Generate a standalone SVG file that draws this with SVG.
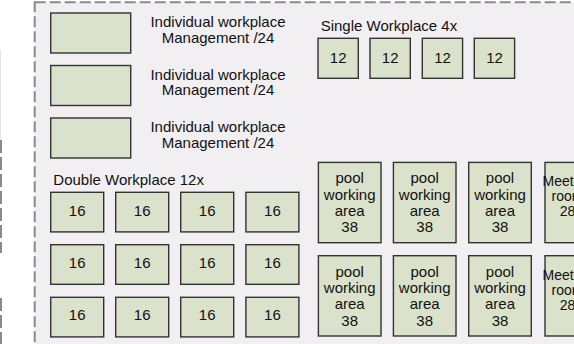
<svg xmlns="http://www.w3.org/2000/svg" width="574" height="344" viewBox="0 0 574 344">
<style>
.frame{fill:#f1eff2;stroke:#8a8a8a;stroke-width:2;stroke-dasharray:11 4}
.edge{fill:none;stroke:#8a8a8a;stroke-width:2;stroke-dasharray:13 4}
.box{fill:#dbe2cb;stroke:#333333;stroke-width:1.4}
.t{font-family:"Liberation Sans",Arial,sans-serif;font-size:15px;fill:#111111}
.c{text-anchor:middle}
.m{font-size:14px}
</style>
<rect x="0" y="0" width="574" height="344" fill="#ffffff"/>
<line x1="0.5" y1="50" x2="0.5" y2="140" stroke="#e4e4e4" stroke-width="1"/>
<line class="edge" x1="1" y1="140" x2="1" y2="253"/>
<line class="edge" x1="1" y1="298" x2="1" y2="344"/>
<rect class="frame" x="34.7" y="2.3" width="560" height="360"/>

<g id="mgmt1"><rect class="box" x="50.7" y="13" width="80" height="40"/><text class="t c" x="218" y="27.3">Individual workplace</text><text class="t c" x="218" y="42.7">Management /24</text></g>
<g id="mgmt2"><rect class="box" x="50.7" y="65.5" width="80" height="40"/><text class="t c" x="218" y="79.5">Individual workplace</text><text class="t c" x="218" y="95">Management /24</text></g>
<g id="mgmt3"><rect class="box" x="50.7" y="118" width="80" height="40"/><text class="t c" x="218" y="131.7">Individual workplace</text><text class="t c" x="218" y="147.7">Management /24</text></g>

<g id="single-label"><text class="t" x="320.7" y="31">Single Workplace 4x</text></g>
<g id="s1"><rect class="box" x="318" y="38.3" width="40.3" height="40"/><text class="t c" x="338.2" y="63.3">12</text></g>
<g id="s2"><rect class="box" x="370" y="38.3" width="40.3" height="40"/><text class="t c" x="390.2" y="63.3">12</text></g>
<g id="s3"><rect class="box" x="422.3" y="38.3" width="40.3" height="40"/><text class="t c" x="442.5" y="63.3">12</text></g>
<g id="s4"><rect class="box" x="474.3" y="38.3" width="40.3" height="40"/><text class="t c" x="494.5" y="63.3">12</text></g>

<g id="double-label"><text class="t" x="53.3" y="185">Double Workplace 12x</text></g>
<g id="d11"><rect class="box" x="50.7" y="192.3" width="53" height="39.6"/><text class="t c" x="77.2" y="216">16</text></g>
<g id="d12"><rect class="box" x="115.7" y="192.3" width="53" height="39.6"/><text class="t c" x="142.2" y="216">16</text></g>
<g id="d13"><rect class="box" x="180.7" y="192.3" width="53" height="39.6"/><text class="t c" x="207.2" y="216">16</text></g>
<g id="d14"><rect class="box" x="245.9" y="192.3" width="53" height="39.6"/><text class="t c" x="272.4" y="216">16</text></g>
<g id="d21"><rect class="box" x="50.7" y="244.7" width="53" height="39.6"/><text class="t c" x="77.2" y="268">16</text></g>
<g id="d22"><rect class="box" x="115.7" y="244.7" width="53" height="39.6"/><text class="t c" x="142.2" y="268">16</text></g>
<g id="d23"><rect class="box" x="180.7" y="244.7" width="53" height="39.6"/><text class="t c" x="207.2" y="268">16</text></g>
<g id="d24"><rect class="box" x="245.9" y="244.7" width="53" height="39.6"/><text class="t c" x="272.4" y="268">16</text></g>
<g id="d31"><rect class="box" x="50.7" y="297.3" width="53" height="39.6"/><text class="t c" x="77.2" y="320">16</text></g>
<g id="d32"><rect class="box" x="115.7" y="297.3" width="53" height="39.6"/><text class="t c" x="142.2" y="320">16</text></g>
<g id="d33"><rect class="box" x="180.7" y="297.3" width="53" height="39.6"/><text class="t c" x="207.2" y="320">16</text></g>
<g id="d34"><rect class="box" x="245.9" y="297.3" width="53" height="39.6"/><text class="t c" x="272.4" y="320">16</text></g>

<g id="p11"><rect class="box" x="318.4" y="162.4" width="62.6" height="80.3"/><text class="t c" x="349.7" y="183.3">pool</text><text class="t c" x="349.7" y="199.5">working</text><text class="t c" x="349.7" y="215.7">area</text><text class="t c" x="349.7" y="232">38</text></g>
<g id="p12"><rect class="box" x="393.4" y="162.4" width="62.6" height="80.3"/><text class="t c" x="424.7" y="183.3">pool</text><text class="t c" x="424.7" y="199.5">working</text><text class="t c" x="424.7" y="215.7">area</text><text class="t c" x="424.7" y="232">38</text></g>
<g id="p13"><rect class="box" x="468.7" y="162.4" width="62.6" height="80.3"/><text class="t c" x="500" y="183.3">pool</text><text class="t c" x="500" y="199.5">working</text><text class="t c" x="500" y="215.7">area</text><text class="t c" x="500" y="232">38</text></g>
<g id="m1"><rect class="box" x="545" y="162.4" width="62.6" height="80.3"/><text class="t m c" x="567.5" y="186">Meeting</text><text class="t m c" x="567.5" y="201">room</text><text class="t m c" x="567.5" y="216">28</text></g>
<g id="p21"><rect class="box" x="318.4" y="255.7" width="62.6" height="80.3"/><text class="t c" x="349.7" y="276.8">pool</text><text class="t c" x="349.7" y="293">working</text><text class="t c" x="349.7" y="309.2">area</text><text class="t c" x="349.7" y="325.5">38</text></g>
<g id="p22"><rect class="box" x="393.4" y="255.7" width="62.6" height="80.3"/><text class="t c" x="424.7" y="276.8">pool</text><text class="t c" x="424.7" y="293">working</text><text class="t c" x="424.7" y="309.2">area</text><text class="t c" x="424.7" y="325.5">38</text></g>
<g id="p23"><rect class="box" x="468.7" y="255.7" width="62.6" height="80.3"/><text class="t c" x="500" y="276.8">pool</text><text class="t c" x="500" y="293">working</text><text class="t c" x="500" y="309.2">area</text><text class="t c" x="500" y="325.5">38</text></g>
<g id="m2"><rect class="box" x="545" y="255.7" width="62.6" height="80.3"/><text class="t m c" x="567.5" y="279.5">Meeting</text><text class="t m c" x="567.5" y="294.5">room</text><text class="t m c" x="567.5" y="309.5">28</text></g>
<g id="connectors"></g>
</svg>
